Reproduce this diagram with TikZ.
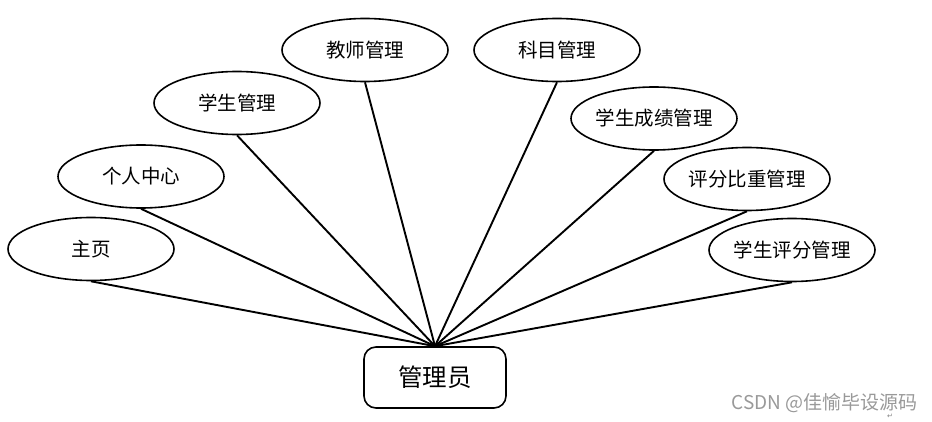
\documentclass[tikz,border=0pt]{standalone}
\usepackage{fontspec}
\newfontfamily\cjk{Noto Sans CJK SC}
\newfontfamily\dvs{DejaVu Sans}
\usetikzlibrary{shapes.geometric}
\begin{document}
\begin{tikzpicture}[x=1pt,y=-1pt,
  func/.style={ellipse,draw,line width=1.6pt,minimum width=166pt,minimum height=63pt,inner sep=0pt,font=\cjk\fontsize{19.5}{22}\selectfont},
  rootbox/.style={draw,line width=1.6pt,rounded corners=12pt,minimum width=142pt,minimum height=61pt,inner sep=0pt,font=\cjk\fontsize{24.5}{28}\selectfont},
  link/.style={line width=1.9pt}]
\useasboundingbox (0,0) rectangle (932,422);
\node[rootbox] (root) at (435,377.5) {管理员};
\node[func] (a) at (91,249) {主页};
\node[func] (b) at (141,176.5) {个人中心};
\node[func] (c) at (237,103) {学生管理};
\node[func] (d) at (365,50) {教师管理};
\node[func] (e) at (557,50) {科目管理};
\node[func] (f) at (654,118.5) {学生成绩管理};
\node[func] (g) at (747,179) {评分比重管理};
\node[func] (h) at (792,250) {学生评分管理};
\foreach \n in {a,b,c,d,e,f,g,h} \draw[link] (\n.south) -- (root.north);
\node[text=gray!80,font=\cjk\fontsize{19}{22}\selectfont,anchor=east,inner sep=0pt] (wm) at (918,403) {CSDN @佳愉毕设源码};
\node[text=gray,font=\dvs\fontsize{7}{8}\selectfont,inner sep=0pt] (ret) at (890,416) {↵};
\end{tikzpicture}
\end{document}
